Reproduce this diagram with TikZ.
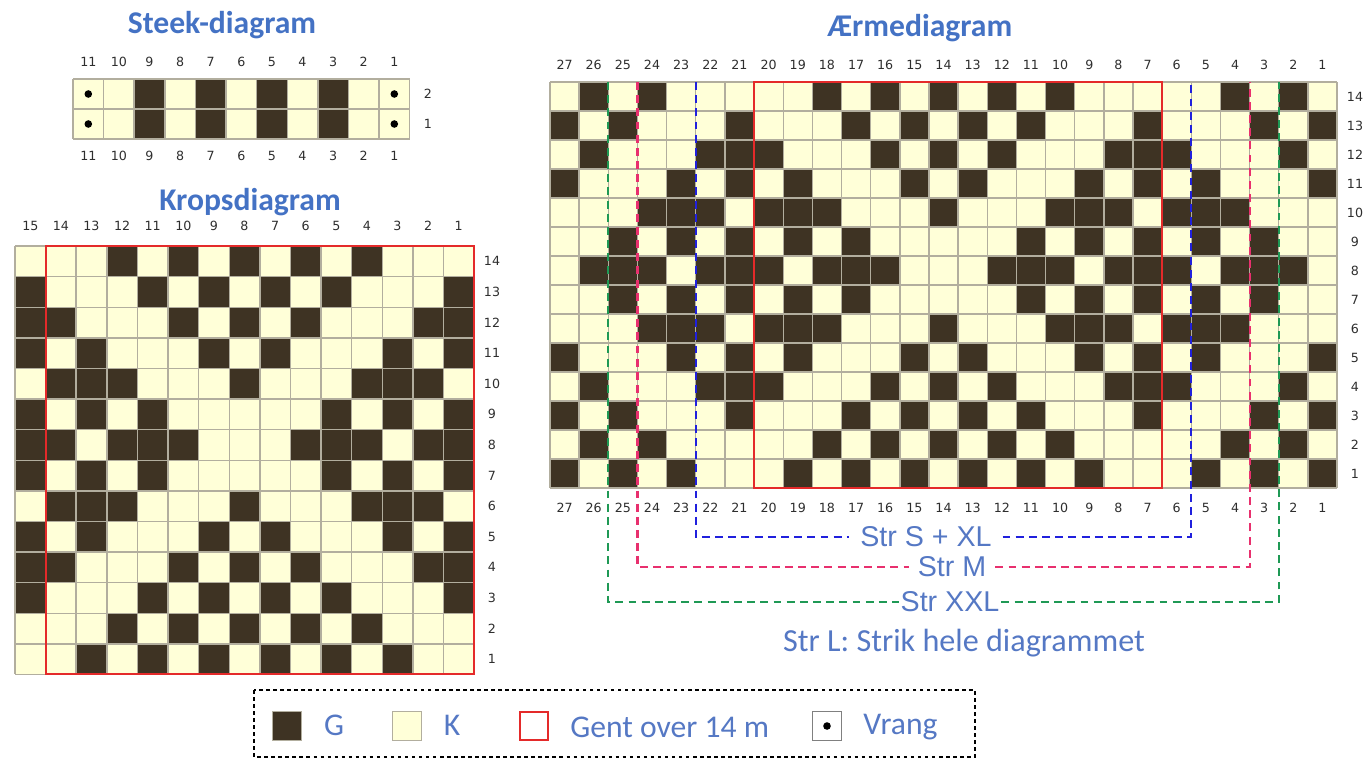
\documentclass[tikz,border=0pt]{standalone}
\usepackage{fontspec}
\setmainfont{Carlito}
\newfontfamily\numfont{DejaVu Sans}
\newfontfamily\strfont{Liberation Sans}
\usetikzlibrary{positioning,calc}
\definecolor{gentbrun}{HTML}{3E3323}
\definecolor{kremhvid}{HTML}{FFFFD8}
\definecolor{gitter}{HTML}{B2AE9E}
\definecolor{titelblaa}{HTML}{4472C4}
\definecolor{tekstblaa}{HTML}{5578C4}
\definecolor{gentrod}{HTML}{E42A2A}
\definecolor{talgraa}{HTML}{2E2E2E}
\definecolor{farveS}{HTML}{2020DD}
\definecolor{farveM}{HTML}{E8306E}
\definecolor{farveXXL}{HTML}{1F9955}

% #1 masker, #2 pinde, #3 bredde, #4 hoejde, #5 pind/{moerke masker}
\newcommand{\tegnkort}[5]{%
  \fill[kremhvid] (0,0) rectangle ({#1*#3},{#2*#4});
  \foreach \r/\cs in {#5}{
    \foreach \c in \cs
      \fill[gentbrun] ({(#1-\c)*#3},{(#2-\r)*#4}) rectangle ++(#3,#4);
  }
  \foreach \i in {0,...,#1}
    \draw[gitterlinje] ({\i*#3},0) -- ({\i*#3},{#2*#4});
  \foreach \j in {0,...,#2}
    \draw[gitterlinje] (0,{\j*#4}) -- ({#1*#3},{\j*#4});
}

\begin{document}
\begin{tikzpicture}[x=0.02cm,y=-0.02cm,
    gitterlinje/.style={draw=gitter, line width=0.8pt},
    tal/.style={font=\numfont\fontsize{7.2}{8}\selectfont, text=talgraa, inner sep=0pt},
    titel/.style={font=\fontsize{18}{21}\selectfont\bfseries, text=titelblaa, inner sep=0pt},
    strtekst/.style={font=\strfont\fontsize{16.3}{19}\selectfont, text=tekstblaa, inner sep=0pt},
    legtekst/.style={font=\fontsize{18}{21}\selectfont, text=tekstblaa, inner sep=0pt},
    gentramme/.style={draw=gentrod, line width=1.2pt},
    strlinje/.style={dash pattern=on 4.5pt off 3pt, line width=1.2pt},
    legfelt/.style={draw=gitter, line width=0.8pt, minimum size=0.57cm, inner sep=0pt},
  ]
  \useasboundingbox (0,0) rectangle (1365,758);

  % steek
  \node[titel] (steektitel) at (222,25) {Steek-diagram};
  \begin{scope}[shift={(73,79)}]
    \tegnkort{11}{2}{30.6}{30}{2/{9,7,5,3},1/{9,7,5,3}}
    \foreach \r in {1,2}{
      \fill ({0.5*30.6},{(2-\r+0.5)*30}) circle (3.8);
      \fill ({10.5*30.6},{(2-\r+0.5)*30}) circle (3.8);
      \node[tal] at (355,{(2-\r+0.5)*30}) {\r};
    }
    \foreach \c in {1,...,11}{
      \node[tal] at ({(11-\c+0.5)*30.6},-17) {\c};
      \node[tal] at ({(11-\c+0.5)*30.6},77) {\c};
    }
  \end{scope}

  % krop
  \node[titel] (kroptitel) at (250,202) {Kropsdiagram};
  \begin{scope}[shift={(15,246)}]
    \tegnkort{15}{14}{30.6}{30.6}{
      14/{12,10,8,6,4}, 13/{15,11,9,7,5,1}, 12/{15,14,10,8,6,2,1},
      11/{15,13,9,7,3,1}, 10/{14,13,12,8,4,3,2}, 9/{15,13,11,5,3,1},
      8/{15,14,12,11,10,6,5,4,2,1}, 7/{15,13,11,5,3,1},
      6/{14,13,12,8,4,3,2}, 5/{15,13,9,7,3,1}, 4/{15,14,10,8,6,2,1},
      3/{15,11,9,7,5,1}, 2/{12,10,8,6,4}, 1/{13,11,9,7,5,3}}
    \draw[gentramme] (30.6,0) rectangle ({15*30.6},{14*30.6});
    \foreach \c in {1,...,15}
      \node[tal] at ({(15-\c+0.5)*30.6},-20) {\c};
    \foreach \r in {1,...,14}
      \node[tal] at (477,{(14-\r+0.5)*30.6}) {\r};
  \end{scope}

  % aerme
  \node[titel] (aermetitel) at (920,28) {Ærmediagram};
  \begin{scope}[shift={(550,82)}]
    \tegnkort{27}{14}{29.15}{29}{
      14/{26,24,18,16,14,12,10,4,2},
      13/{27,25,21,17,15,13,11,7,3,1},
      12/{26,22,21,20,16,14,12,8,7,6,2},
      11/{27,23,21,19,15,13,9,7,5,1},
      10/{24,23,22,20,19,18,14,10,9,8,6,5,4},
      9/{25,23,21,19,17,11,9,7,5,3},
      8/{26,25,24,22,21,20,18,17,16,12,11,10,8,7,6,4,3,2},
      7/{25,23,21,19,17,11,9,7,5,3},
      6/{24,23,22,20,19,18,14,10,9,8,6,5,4},
      5/{27,23,21,19,15,13,9,7,5,1},
      4/{26,22,21,20,16,14,12,8,7,6,2},
      3/{27,25,21,17,15,13,11,7,3,1},
      2/{26,24,18,16,14,12,10,4,2},
      1/{27,25,23,19,17,15,13,11,9,5,3,1}}
    \draw[gentramme] ({7*29.15},0) rectangle ({21*29.15},{14*29});
    \foreach \c in {1,...,27}{
      \node[tal] at ({(27-\c+0.5)*29.15},-17) {\c};
      \node[tal] at ({(27-\c+0.5)*29.15},426) {\c};
    }
    \foreach \r in {1,...,14}
      \node[tal] at (805,{(14-\r+0.5)*29}) {\r};

    % stoerrelser
    \coordinate (sA) at ({5*29.15},0);  \coordinate (sB) at ({22*29.15},0);
    \coordinate (mA) at ({3*29.15},0);  \coordinate (mB) at ({24*29.15},0);
    \coordinate (xA) at ({2*29.15},0);  \coordinate (xB) at ({25*29.15},0);
    \node[strtekst, inner xsep=6pt] (lblS) at (376,455) {Str S + XL};
    \node[strtekst, inner xsep=5pt] (lblM) at (402,485) {Str M};
    \node[strtekst, inner xsep=1pt] (lblXXL) at (400,520) {Str XXL};
    \node[legtekst, font=\fontsize{18.3}{21}\selectfont] (lblL) at (414,561) {Str L: Strik hele diagrammet};
    \draw[strlinje, farveS] (sA) |- (lblS.west);
    \draw[strlinje, farveS] (lblS.east) -| (sB);
    \draw[strlinje, farveM] (mA) |- (lblM.west);
    \draw[strlinje, farveM] (lblM.east) -| (mB);
    \draw[strlinje, farveXXL] (xA) |- (lblXXL.west);
    \draw[strlinje, farveXXL] (lblXXL.east) -| (xB);
  \end{scope}

  % signaturer
  \draw[dash pattern=on 2pt off 2pt, line width=0.6pt] (254,690) rectangle (975,757);
  \node[legfelt, fill=gentbrun] (legG) at (287,726) {};
  \node[legtekst] (txtG) at (334,725) {G};
  \node[legfelt, fill=kremhvid] (legK) at (407,726) {};
  \node[legtekst] (txtK) at (452,725) {K};
  \node[legfelt, draw=gentrod, line width=1pt] (legR) at (534,726) {};
  \node[legtekst, anchor=west] (txtR) at (570,727) {Gent over 14 m};
  \node[legfelt, draw=gray] (legV) at (827,726) {};
  \fill (legV.center) circle (3.8);
  \node[legtekst, anchor=west] (txtV) at (863,727) {Vrang};
\end{tikzpicture}
\end{document}
